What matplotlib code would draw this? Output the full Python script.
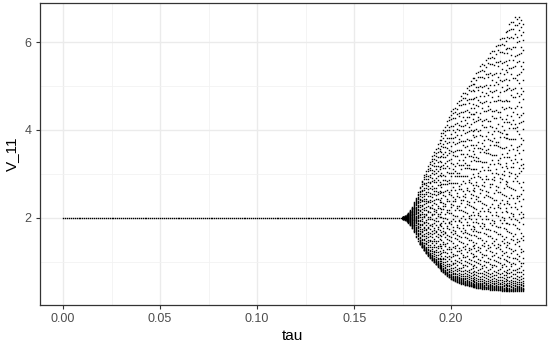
'''
分岔图: V_11 随 tau 变化
'''
import numpy as np
import matplotlib.pyplot as plt

plt.rcParams['font.family'] = ['Liberation Sans', 'DejaVu Sans']

# 平稳段: tau 扫描 0 ~ 0.174, 步长 0.001, V_11 = 2
tau_flat = np.round(np.arange(0.0, 0.1745, 0.001), 3)
v_flat = 2.0

# 振荡段: 每一列的 tau, 以及从图上读出的上下包络
tau_osc = np.round(np.arange(0.175, 0.2375, 0.001), 3)
v_upper = [2.02, 2.04, 2.07, 2.11, 2.17, 2.25, 2.35, 2.46, 2.58, 2.72,
           2.85, 2.98, 3.09, 3.20, 3.30, 3.40, 3.50, 3.60, 3.70, 3.80,
           3.92, 4.02, 4.13, 4.24, 4.35, 4.43, 4.50, 4.57, 4.64, 4.71,
           4.78, 4.85, 4.92, 4.99, 5.06, 5.12, 5.19, 5.25, 5.32, 5.38,
           5.45, 5.51, 5.57, 5.63, 5.70, 5.76, 5.82, 5.88, 5.94, 6.00,
           6.06, 6.12, 6.19, 6.26, 6.33, 6.40, 6.48, 6.56, 6.62, 6.60,
           6.57, 6.53, 6.50]
v_lower = [1.98, 1.96, 1.93, 1.89, 1.83, 1.76, 1.67, 1.57, 1.48, 1.40,
           1.33, 1.26, 1.20, 1.14, 1.09, 1.04, 0.99, 0.94, 0.89, 0.85,
           0.80, 0.76, 0.72, 0.68, 0.64, 0.61, 0.58, 0.56, 0.54, 0.52,
           0.50, 0.49, 0.47, 0.46, 0.45, 0.44, 0.43, 0.42, 0.41, 0.40,
           0.40, 0.39, 0.39, 0.38, 0.38, 0.37, 0.37, 0.36, 0.36, 0.35,
           0.35, 0.34, 0.34, 0.34, 0.33, 0.33, 0.33, 0.33, 0.34, 0.34,
           0.34, 0.34, 0.34]

# 列内各点在包络之间的相对位置 (底部较密)
frac_dense = [0.00, 0.03, 0.06, 0.09, 0.11, 0.14, 0.17, 0.20, 0.23, 0.26,
              0.29, 0.31, 0.34, 0.37, 0.40, 0.43, 0.46, 0.49, 0.51, 0.54,
              0.57, 0.60, 0.63, 0.66, 0.69, 0.71, 0.74, 0.77, 0.80, 0.83,
              0.86, 0.89, 0.91, 0.94, 0.97, 1.00]
frac_a = [0.000, 0.002, 0.005, 0.009, 0.013, 0.018, 0.024, 0.031, 0.040, 0.052,
          0.067, 0.085, 0.109, 0.128, 0.163, 0.181, 0.224, 0.251, 0.279, 0.327,
          0.348, 0.392, 0.431, 0.447, 0.503, 0.529, 0.571, 0.612, 0.633, 0.689,
          0.712, 0.760, 0.791, 0.838, 0.865, 0.912, 0.951, 0.978, 1.000]
frac_b = [0.001, 0.003, 0.007, 0.011, 0.016, 0.021, 0.028, 0.036, 0.046, 0.060,
          0.074, 0.097, 0.118, 0.149, 0.170, 0.207, 0.238, 0.262, 0.305, 0.318,
          0.366, 0.409, 0.423, 0.478, 0.492, 0.551, 0.589, 0.604, 0.662, 0.701,
          0.735, 0.772, 0.815, 0.849, 0.884, 0.930, 0.962, 0.993]
frac_c = [0.000, 0.004, 0.006, 0.010, 0.015, 0.020, 0.026, 0.034, 0.043, 0.056,
          0.071, 0.092, 0.102, 0.141, 0.155, 0.195, 0.214, 0.268, 0.291, 0.310,
          0.357, 0.381, 0.439, 0.461, 0.486, 0.540, 0.563, 0.620, 0.648, 0.677,
          0.725, 0.746, 0.803, 0.826, 0.874, 0.897, 0.940, 0.970, 0.996]
frac_d = [0.001, 0.003, 0.006, 0.010, 0.014, 0.019, 0.025, 0.033, 0.043, 0.054,
          0.069, 0.081, 0.114, 0.133, 0.176, 0.188, 0.229, 0.257, 0.299, 0.336,
          0.343, 0.398, 0.416, 0.469, 0.511, 0.524, 0.580, 0.597, 0.641, 0.670,
          0.720, 0.767, 0.784, 0.832, 0.858, 0.905, 0.921, 0.966, 0.988]
frac_e = [0.000, 0.002, 0.005, 0.008, 0.012, 0.017, 0.023, 0.030, 0.038, 0.049,
          0.063, 0.078, 0.104, 0.122, 0.146, 0.186, 0.201, 0.245, 0.274, 0.284,
          0.339, 0.372, 0.401, 0.452, 0.467, 0.520, 0.556, 0.598, 0.626, 0.655,
          0.708, 0.739, 0.779, 0.818, 0.845, 0.891, 0.926, 0.957, 0.984]

xs = list(tau_flat)
ys = [v_flat] * len(tau_flat)
cycle = [frac_a, frac_c, frac_e, frac_b, frac_d]
for i, t in enumerate(tau_osc):
    fr = frac_dense if t < 0.184 else cycle[i % 5]
    lo, hi = v_lower[i], v_upper[i]
    for f in fr:
        xs.append(t)
        ys.append(lo + f * (hi - lo))

fig = plt.figure(figsize=(5.5, 3.45), dpi=100)
ax = fig.add_subplot()
fig.subplots_adjust(left=40/550, right=546/550, top=1-3/345, bottom=1-305/345)

ax.plot(xs, ys, ls='none', marker='s', ms=1.0, mew=0, color='black', zorder=3)

# theme_bw 风格
ax.set_xticks([0.00, 0.05, 0.10, 0.15, 0.20])
ax.set_xticks([0.025, 0.075, 0.125, 0.175, 0.225], minor=True)
ax.set_yticks([2, 4, 6])
ax.set_yticks([1, 3, 5], minor=True)
ax.set_xticklabels(['0.00', '0.05', '0.10', '0.15', '0.20'])
ax.grid(which='major', color='#EBEBEB', lw=1.0, zorder=0)
ax.grid(which='minor', color='#F2F2F2', lw=0.6, zorder=0)
ax.tick_params(which='major', length=3, width=0.8, color='#333333',
               labelcolor='#4D4D4D', labelsize=9, pad=3)
ax.tick_params(which='minor', length=0)
for s in ax.spines.values():
    s.set_color('#333333')
    s.set_linewidth(0.9)
ax.set_axisbelow(True)
ax.set_xlabel('tau', fontsize=11, labelpad=3)
ax.set_ylabel('V_11', fontsize=11, labelpad=4)

fig.savefig('out.png', dpi=100)
